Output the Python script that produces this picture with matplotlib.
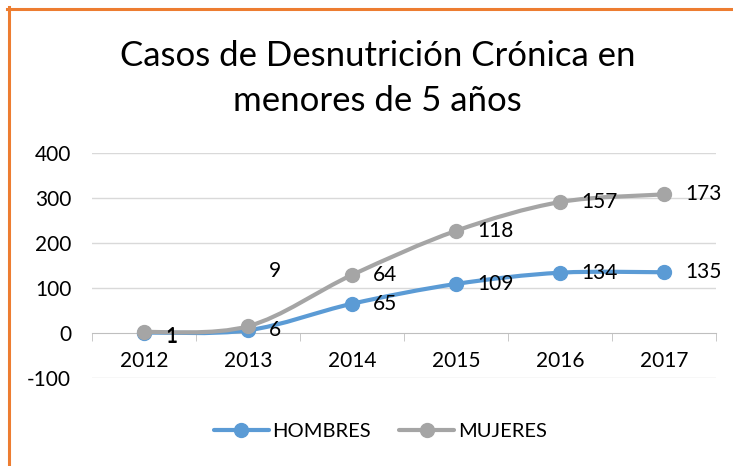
import numpy as np
import matplotlib
matplotlib.use("Agg")
import matplotlib.pyplot as plt
from matplotlib.path import Path
from matplotlib.patches import PathPatch
from matplotlib.lines import Line2D

plt.rcParams['font.family'] = ['Lato', 'DejaVu Sans']

years = ['2012', '2013', '2014', '2015', '2016', '2017']
hombres = [1, 6, 65, 109, 134, 135]
mujeres = [1, 9, 64, 118, 157, 173]
y_ticks = [-100, 0, 100, 200, 300, 400]

blue = '#5B9BD5'
gray = '#A5A5A5'


def smooth_path(xs, ys):
    # excel style smoothed line, bezier segments through the points
    pts = np.column_stack([xs, ys]).astype(float)
    n = len(pts)
    verts = [pts[0]]
    codes = [Path.MOVETO]
    for i in range(n - 1):
        p0 = pts[max(i - 1, 0)]
        p1 = pts[i]
        p2 = pts[i + 1]
        p3 = pts[min(i + 2, n - 1)]
        verts += [p1 + (p2 - p0) / 6, p2 - (p3 - p1) / 6, p2]
        codes += [Path.CURVE4] * 3
    return Path(verts, codes)


x = np.arange(len(years))
h = np.array(hombres)
m = np.array(mujeres) + h  # stacked line

fig = plt.figure(figsize=(7.33, 4.66), dpi=100)
ax = fig.add_axes([92/733, 1-378/466, (716-92)/733, (378-153)/466])

for yv, col, z in [(h, blue, 3), (m, gray, 4)]:
    ax.add_patch(PathPatch(smooth_path(x, yv), fill=False, edgecolor=col,
                           lw=3, capstyle='round', joinstyle='round', zorder=z))
    ax.plot(x, yv, 'o', color=col, ms=10, zorder=z + 0.5)

ax.set_xlim(-0.5, len(years) - 0.5)
ax.set_ylim(-100, 400)
ax.set_yticks(y_ticks)
ax.set_yticklabels([str(v) for v in y_ticks])
ax.set_xticks(x)
ax.set_xticklabels(years)
ax.set_xticks(np.arange(-0.5, len(years)), minor=True)
ax.tick_params(axis='x', which='major', length=0, pad=13, labelsize=15)
ax.tick_params(axis='x', which='minor', length=6, color='#BFBFBF', direction='out')
ax.tick_params(axis='y', length=0, pad=15, labelsize=15)
for s in ['top', 'right', 'left']:
    ax.spines[s].set_visible(False)
ax.spines['bottom'].set_position(('data', 0))
ax.spines['bottom'].set_color('#BFBFBF')
ax.grid(axis='y', color='#D9D9D9', lw=1)
ax.set_axisbelow(True)
for gl in ax.get_ygridlines():
    if gl.get_ydata()[0] == 0:
        gl.set_visible(False)

# data labels
for i in range(len(years)):
    dy = -3 if i == 0 else 0
    ax.annotate(str(hombres[i]), (x[i], h[i]), xytext=(15, dy), textcoords='offset points',
                ha='left', va='center', fontsize=15, zorder=6)
    if i == 0:
        dy2 = -3
    elif i == 1:
        dy2 = 40
    else:
        dy2 = 0
    ax.annotate(str(mujeres[i]), (x[i], m[i]), xytext=(15, dy2), textcoords='offset points',
                ha='left', va='center', fontsize=15, zorder=6)

fig.text(0.515, 1-56/466, 'Casos de Desnutrición Crónica en', ha='center', va='center', fontsize=25)
fig.text(0.515, 1-101/466, 'menores de 5 años', ha='center', va='center', fontsize=25)

handles = [Line2D([], [], color=blue, lw=3, marker='o', ms=10, solid_capstyle='round'),
           Line2D([], [], color=gray, lw=3, marker='o', ms=10, solid_capstyle='round')]
fig.legend(handles, ['HOMBRES', 'MUJERES'], loc='center', bbox_to_anchor=(0.519, 1-431/466),
           ncol=2, frameon=False, fontsize=14.5, handlelength=2.7, handletextpad=0.2,
           columnspacing=1.4)

# orange border, top and left
fig.add_artist(Line2D([7/733, 1], [1-8.5/466, 1-8.5/466], color='#ED7D31', lw=2.2))
fig.add_artist(Line2D([8.5/733, 8.5/733], [0, 1-7/466], color='#ED7D31', lw=2.2))

fig.savefig('out.png', dpi=100)
